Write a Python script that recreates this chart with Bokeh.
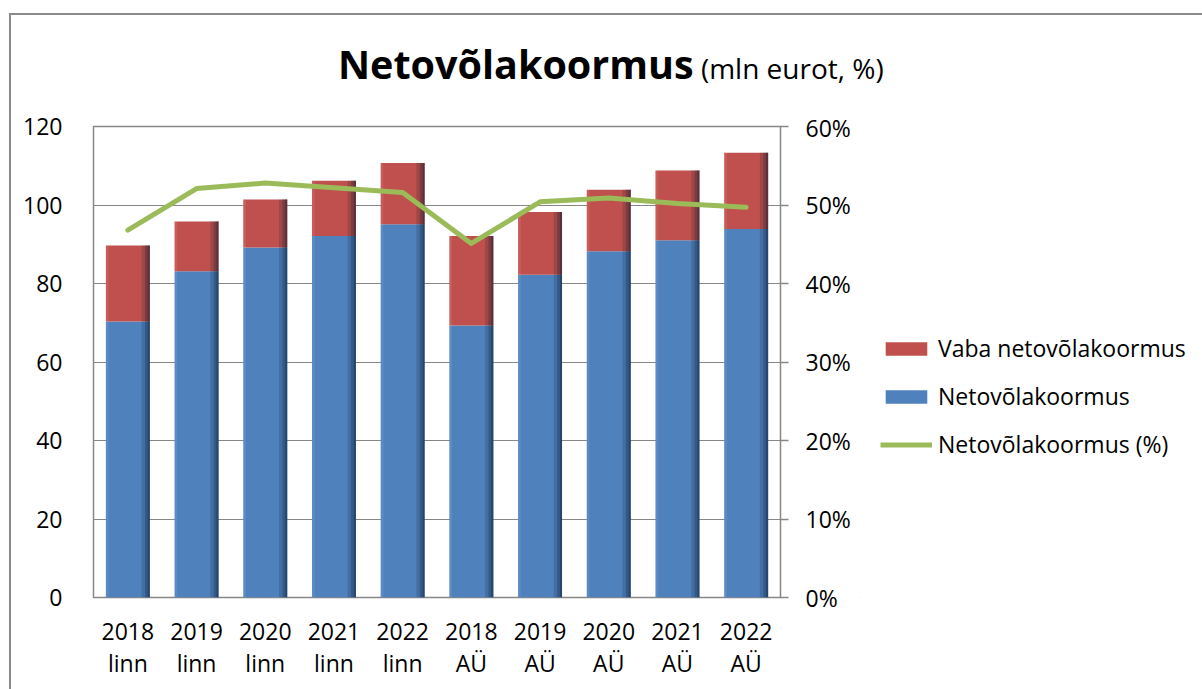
from bokeh.plotting import figure
from bokeh.models import (Range1d, LinearAxis, FixedTicker, NumeralTickFormatter, Legend,
                          LegendItem, ColumnDataSource, FactorRange, Div)
from bokeh.layouts import column, row
from bokeh.transform import dodge
from bokeh.embed import file_html
from bokeh.resources import INLINE

categories = ["2018\nlinn", "2019\nlinn", "2020\nlinn", "2021\nlinn", "2022\nlinn",
              "2018\nAÜ", "2019\nAÜ", "2020\nAÜ", "2021\nAÜ", "2022\nAÜ"]
netovolakoormus = [70.3, 83.1, 89.2, 92.1, 95.1, 69.3, 82.2, 88.2, 91.0, 93.9]
vaba_netovolakoormus = [19.4, 12.7, 12.2, 14.1, 15.6, 22.8, 16.0, 15.7, 17.8, 19.4]
netovolakoormus_pct = [0.468, 0.521, 0.528, 0.522, 0.516, 0.451, 0.504, 0.509, 0.502, 0.497]
left_ticks = [0, 20, 40, 60, 80, 100, 120]
right_ticks = [0, 0.1, 0.2, 0.3, 0.4, 0.5, 0.6]
series_names = ["Vaba netovõlakoormus", "Netovõlakoormus", "Netovõlakoormus (%)"]
title_main = "Netovõlakoormus"
title_sub = "(mln eurot, %)"

FONT = "Open Sans"
GRID = "#878787"
BLUE = "#4F81BD"
RED = "#C0504D"
GREEN = "#9BBB59"

src = ColumnDataSource(dict(
    cat=categories,
    net=netovolakoormus,
    total=[a + b for a, b in zip(netovolakoormus, vaba_netovolakoormus)],
    zero=[0] * len(categories),
    pct=netovolakoormus_pct,
))

title_div = Div(
    text=(f'<div style="padding-left:327px; padding-top:30px; font-family:\'Open Sans\'; '
          f'line-height:1; color:black; white-space:nowrap;">'
          f'<span style="font-weight:bold; font-size:39.5px;">{title_main}</span>'
          f'<span style="font-size:28px;"> {title_sub}</span></div>'),
    width=1191, height=96, margin=0)

p = figure(x_range=FactorRange(factors=categories), y_range=Range1d(0, 120),
           width=849, height=578, output_backend="svg", toolbar_location=None,
           min_border_left=82, min_border_right=80, min_border_top=15, min_border_bottom=92,
           background_fill_color="white", border_fill_color="white", margin=0)
p.outline_line_color = GRID
p.outline_line_width = 1.5

p.xgrid.grid_line_color = None
p.ygrid.grid_line_color = GRID
p.ygrid.grid_line_width = 1.2
p.ygrid.ticker = FixedTicker(ticks=left_ticks)

ya = p.yaxis[0]
ya.ticker = FixedTicker(ticks=left_ticks)
ya.axis_line_color = None
ya.major_tick_line_color = None
ya.minor_tick_line_color = None
ya.major_label_standoff = 25
ya.major_label_text_font = FONT
ya.major_label_text_font_size = "23px"
ya.major_label_text_color = "black"

xa = p.xaxis[0]
xa.axis_line_color = None
xa.major_tick_line_color = None
xa.minor_tick_line_color = None
xa.major_label_standoff = 11
xa.major_label_text_font = FONT
xa.major_label_text_font_size = "23px"
xa.major_label_text_color = "black"
xa.major_label_text_line_height = 1.03

p.extra_y_ranges = {"pct": Range1d(0, 0.6)}
ra = LinearAxis(y_range_name="pct", ticker=FixedTicker(ticks=right_ticks),
                formatter=NumeralTickFormatter(format="0%"))
ra.axis_line_color = None
ra.major_tick_line_color = GRID
ra.major_tick_line_width = 1.5
ra.major_tick_out = 8
ra.major_tick_in = 0
ra.minor_tick_line_color = None
ra.major_label_standoff = 17
ra.major_label_text_font = FONT
ra.major_label_text_font_size = "23px"
ra.major_label_text_color = "black"
p.add_layout(ra, "right")

W = 0.64
p.vbar(x="cat", bottom="zero", top="net", width=W, source=src,
       fill_color=BLUE, line_color=None)
p.vbar(x="cat", bottom="net", top="total", width=W, source=src,
       fill_color=RED, line_color=None)
for off, w, a in [(0.26, 0.12, 0.18), (0.285, 0.07, 0.25), (0.305, 0.03, 0.3)]:
    p.vbar(x=dodge("cat", off, range=p.x_range), bottom="zero", top="total", width=w,
           source=src, fill_color="#0b1a2e", fill_alpha=a, line_color=None)
p.vbar(x=dodge("cat", -0.3, range=p.x_range), bottom="zero", top="total", width=0.04,
       source=src, fill_color="white", fill_alpha=0.08, line_color=None)
p.line(x="cat", y="pct", y_range_name="pct", source=src,
       line_color=GREEN, line_width=5, line_join="round", line_cap="round")

# legend panel (separate figure to the right of the chart); its swatch renderers
# sit outside that panel's visible range, so only the legend shows
lg = figure(width=1191 - 849, height=578, x_range=Range1d(0, 1), y_range=Range1d(0, 1),
            output_backend="svg", toolbar_location=None, x_axis_location=None,
            y_axis_location=None, min_border=0, outline_line_color=None, margin=0,
            background_fill_color="white", border_fill_color="white")
lg.grid.visible = False
off_x = [-5]
off_y = [-5]
lr = lg.vbar(x=off_x, top=off_y, width=0.1, fill_color=RED, line_color=None)
lb = lg.vbar(x=off_x, top=off_y, width=0.1, fill_color=BLUE, line_color=None)
ll = lg.line(x=off_x, y=off_y, line_color=GREEN, line_width=5)
legend = Legend(items=[
    LegendItem(label=series_names[0], renderers=[lr]),
    LegendItem(label=series_names[1], renderers=[lb]),
    LegendItem(label=series_names[2], renderers=[ll]),
], location=(20, 137), glyph_width=52, glyph_height=17, label_height=30,
    label_standoff=6, spacing=16, padding=0, margin=0,
    border_line_color=None, background_fill_alpha=0,
    label_text_font=FONT, label_text_font_size="23px", label_text_color="black")
lg.add_layout(legend, "center")

layout = column(title_div, row(p, lg, spacing=0), spacing=0,
                styles={"margin-left": "9px", "margin-top": "13px",
                        "border-left": "2px solid #8a8a8a", "border-top": "2px solid #8a8a8a"})

open("out.html", "w").write(file_html(layout, INLINE))
